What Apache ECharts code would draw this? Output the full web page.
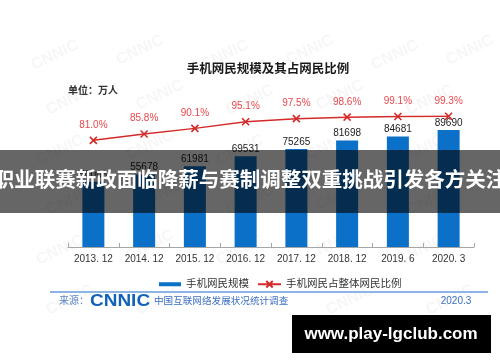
<!DOCTYPE html>
<html><head><meta charset="utf-8">
<script src="https://cdn.jsdelivr.net/npm/echarts@6/dist/echarts.min.js"></script>
<style>html,body{margin:0;padding:0;background:#fff}#c{width:500px;height:362px}</style>
</head><body><div id="c"></div>
<script>
const categories = ['2013. 12','2014. 12','2015. 12','2016. 12','2017. 12','2018. 12','2019. 6','2020. 3'];
const mobileUsers = [50006,55678,61981,69531,75265,81698,84681,89690];
const mobileShare = [81.0,85.8,90.1,95.1,97.5,98.6,99.1,99.3];
const seriesNames = ['手机网民规模','手机网民占整体网民比例'];
const chartTitle = '手机网民规模及其占网民比例';
const unitText = '单位：万人';
const bannerText = '职业联赛新政面临降薪与赛制调整双重挑战引发各方关注';
const siteText = 'www.play-lgclub.com';

const F = '"Liberation Sans","Noto Sans CJK SC",sans-serif';
const chart = echarts.init(document.getElementById('c'), null, {renderer:'canvas'});

const marks = [];
const wmPos = [[55,55],[140,50],[225,55],[310,50],[395,55],[470,50],
  [70,100],[160,95],[250,100],[340,95],[430,100],
  [60,150],[150,145],[240,150],[330,145],[420,150],
  [70,200],[160,195],[250,200],[340,195],[430,200],
  [60,250],[150,245],[240,250],[330,245],[420,250],
  [70,300],[160,300],[350,300],[450,300]];
wmPos.forEach(p => marks.push({type:'text', x:p[0], y:p[1], rotation:0.45, z:0,
  style:{text:'CNNIC', font:'bold 16px '+F, fill:'rgba(0,0,0,0.035)', textAlign:'center', textVerticalAlign:'middle'}}));

marks.push(
  {type:'text', x:268, y:70, z:5, style:{text:chartTitle, font:'bold 12.5px '+F, fill:'#1a1a1a', textAlign:'center', textVerticalAlign:'middle'}},
  {type:'text', x:68, y:91, z:5, style:{text:unitText, font:'bold 10px '+F, fill:'#333', textAlign:'left', textVerticalAlign:'middle'}},
  {type:'line', z:5, shape:{x1:50,y1:292,x2:488,y2:292}, style:{stroke:'#8eb4e3', lineWidth:2}},
  {type:'text', x:59, y:301, z:5, style:{text:'来源：', font:'10px '+F, fill:'#5b84c4', textAlign:'left', textVerticalAlign:'middle'}},
  {type:'text', x:90, y:301, z:5, scaleX:1.15, style:{text:'CNNIC', font:'900 16.5px '+F, fill:'#1463b8', textAlign:'left', textVerticalAlign:'middle'}},
  {type:'text', x:154, y:301, z:5, style:{text:'中国互联网络发展状况统计调查', font:'9.6px '+F, fill:'#3d6fc0', textAlign:'left', textVerticalAlign:'middle'}},
  {type:'text', x:456, y:301, z:5, style:{text:'2020.3', font:'10px '+F, fill:'#3d6fc0', textAlign:'center', textVerticalAlign:'middle'}},
  {type:'rect', z:100, shape:{x:0,y:150,width:500,height:63}, style:{fill:'rgba(0,0,0,0.6)'}},
  {type:'text', x:250, y:181, z:101, style:{text:bannerText, font:'bold 20.5px '+F, fill:'#fff', textAlign:'center', textVerticalAlign:'middle'}},
  {type:'rect', z:100, shape:{x:292,y:315,width:199,height:38}, style:{fill:'#000'}},
  {type:'text', x:391, y:334, z:101, style:{text:siteText, font:'bold 17px '+F, fill:'#fff', textAlign:'center', textVerticalAlign:'middle'}}
);

chart.setOption({
  animation:false,
  backgroundColor:'#fff',
  grid:{left:68, right:26, top:116, bottom:115, containLabel:false},
  legend:[
    {data:[seriesNames[0]], left:154, top:274, itemWidth:22, itemHeight:4, icon:'rect', itemGap:10,
     textStyle:{fontFamily:F, fontSize:10.5, color:'#333'}},
    {data:[seriesNames[1]], left:252, top:274, itemWidth:23, itemHeight:8, itemGap:10,
     textStyle:{fontFamily:F, fontSize:10.5, color:'#333'}}
  ],
  xAxis:{type:'category', data:categories, boundaryGap:true,
    axisLine:{lineStyle:{color:'#a6a6a6', width:1}},
    axisTick:{show:true, inside:true, length:4, interval:0, lineStyle:{color:'#a6a6a6'}},
    axisLabel:{interval:0, margin:7, fontFamily:F, fontSize:10, color:'#333'}},
  yAxis:[
    {type:'value', min:0, max:100500, show:false, splitLine:{show:false}},
    {type:'value', min:0, max:99.5, show:false, splitLine:{show:false}}
  ],
  graphic:{elements:marks},
  series:[
    {name:seriesNames[0], type:'bar', data:mobileUsers, yAxisIndex:0, barWidth:22,
     itemStyle:{color:'#0a70c8'},
     label:{show:true, position:'top', distance:2, fontFamily:F, fontSize:10, color:'#222'}},
    {name:seriesNames[1], type:'line', data:mobileShare, yAxisIndex:1, z:3,
     symbol:'path://M0,0L10,10M10,0L0,10', symbolSize:7,
     lineStyle:{color:'#d42a2a', width:1.5},
     itemStyle:{color:'#d42a2a', borderColor:'#d42a2a', borderWidth:1.6},
     label:{show:true, position:'top', distance:6, fontFamily:F, fontSize:10, color:'#e8474c',
       formatter:p => p.value.toFixed(1)+'%'}}
  ]
});
</script></body></html>
